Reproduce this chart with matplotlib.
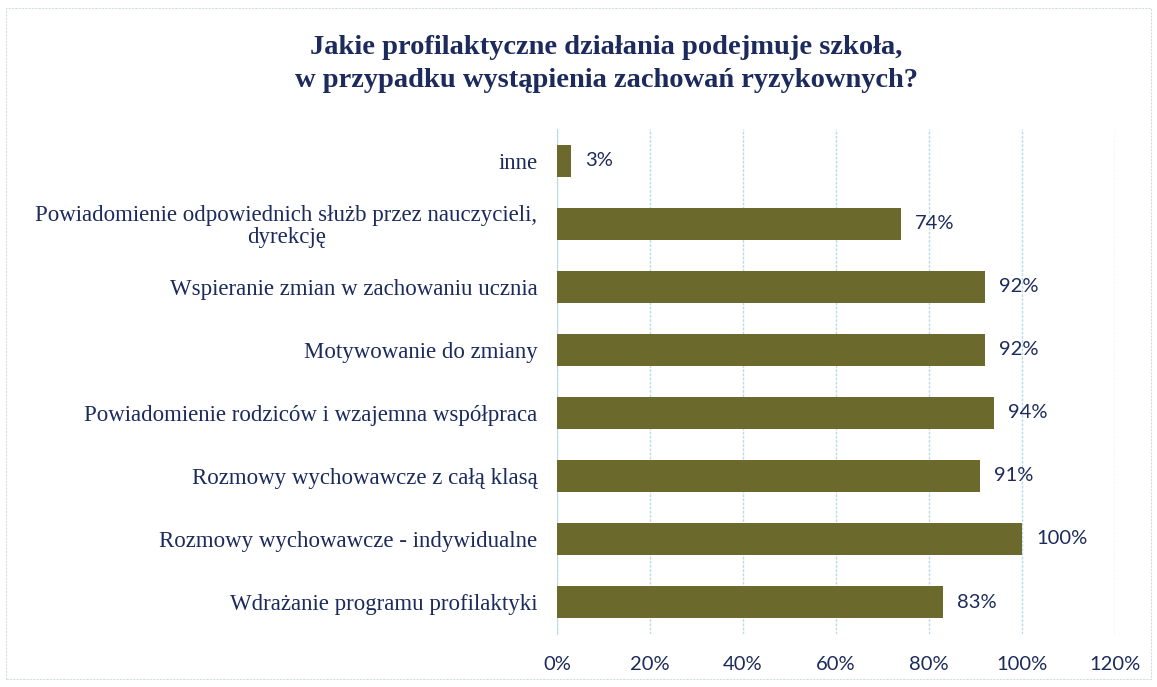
import numpy as np
import matplotlib.pyplot as plt
from matplotlib.patches import Rectangle

# Dane wykresu (od góry do dołu)
kategorie = [
    'inne',
    'Powiadomienie odpowiednich służb przez nauczycieli,\ndyrekcję',
    'Wspieranie zmian w zachowaniu ucznia',
    'Motywowanie do zmiany',
    'Powiadomienie rodziców i wzajemna współpraca',
    'Rozmowy wychowawcze z całą klasą',
    'Rozmowy wychowawcze - indywidualne',
    'Wdrażanie programu profilaktyki',
]
wartosci = [3, 74, 92, 92, 94, 91, 100, 83]
ticki = [0, 20, 40, 60, 80, 100, 120]
tytul = 'Jakie profilaktyczne działania podejmuje szkoła,\nw przypadku wystąpienia zachowań ryzykownych?'

granat = '#1c2a5c'
oliwka = '#6b6a2c'

fig = plt.figure(figsize=(11.57, 6.87), dpi=100)
ax = fig.add_axes([0.4814, 1 - 633.5 / 687, 0.4823, 504 / 687])

y = np.arange(len(kategorie))
ax.barh(y, wartosci, height=0.52, color=oliwka, zorder=3)
ax.set_ylim(len(kategorie) - 0.5, -0.5)
ax.set_xlim(0, 120)

for yi, v in zip(y, wartosci):
    ax.text(v + 3, yi, f'{v}%', va='center', ha='left', fontsize=14.5,
            family='Lato', color=granat)

ax.set_xticks(ticks=ticki)
ax.set_xticklabels([f'{t}%' for t in ticki], fontsize=14.5, family='Lato', color=granat)
ax.set_yticks(y)
ax.set_yticklabels(kategorie, fontsize=16.5, family='Liberation Serif', color=granat,
                   linespacing=1.05, multialignment='center')
ax.tick_params(axis='both', length=0)
ax.tick_params(axis='x', pad=16)
ax.tick_params(axis='y', pad=14)

ax.grid(axis='x', color='#bcdbe8', linewidth=1, linestyle=(0, (2, 1)), zorder=0)
for s in ['top', 'right', 'bottom']:
    ax.spines[s].set_visible(False)
ax.spines['left'].set_color('#bcdbe8')

fig.text(0.524, 1 - 64 / 687, tytul, ha='center', va='center', fontsize=20.5,
         fontweight='bold', family='Liberation Serif', color=granat, linespacing=1.4)

fig.patches.append(Rectangle((6 / 1157, 8 / 687), 1 - 12 / 1157, 1 - 16 / 687,
                             transform=fig.transFigure, fill=False,
                             edgecolor='#d4dde2', linewidth=0.8, linestyle=(0, (2, 1))))

fig.savefig('out.png', dpi=100)
